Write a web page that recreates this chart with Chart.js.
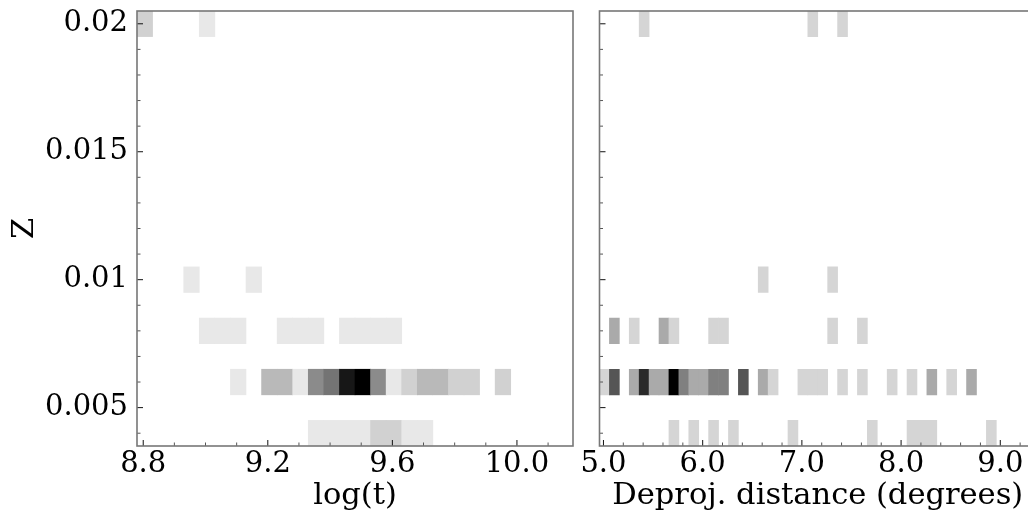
<!DOCTYPE html>
<html>
<head>
<meta charset="utf-8">
<script src="https://cdn.jsdelivr.net/npm/chart.js@4"></script>
<style>
  html, body { margin: 0; padding: 0; background: #fff; overflow: hidden; width: 1028px; height: 516px; }
  #chart-logt { position: absolute; left: 0; top: 0; }
  #chart-dist { position: absolute; left: 560px; top: 0; }
</style>
</head>
<body>
<canvas id="chart-logt" width="586" height="516"></canvas>
<canvas id="chart-dist" width="490" height="516"></canvas>
<script>
// Metallicity rows shared by both panels (bins are 0.001 tall)
const zRows = [0.004, 0.006, 0.008, 0.010, 0.020];
const zBin = 0.001;
const zRange = [0.0035, 0.0205];
const zMajorTicks = [0.005, 0.01, 0.015, 0.02];
const zMinorStep = 0.001;

// log(t) panel: 28 bins of 0.05 starting at 8.78
const logtRange = [8.78, 10.18];
const logtBin = 0.05;
const logtMajorTicks = [8.8, 9.2, 9.6, 10.0];
const logtMinorStep = 0.1;
const logtZ004 = [0,0,0,0,0,0,0,0,0,0,0,1,1,1,1,2,2,1,1,0,0,0,0,0,0,0,0,0];
const logtZ006 = [0,0,0,0,0,0,1,0,3,3,1,5,6,10,11,5,1,2,3,3,2,2,0,2,0,0,0,0];
const logtZ008 = [0,0,0,0,1,1,1,0,0,1,1,1,0,1,1,1,1,0,0,0,0,0,0,0,0,0,0,0];
const logtZ010 = [0,0,0,1,0,0,0,1,0,0,0,0,0,0,0,0,0,0,0,0,0,0,0,0,0,0,0,0];
const logtZ020 = [2,0,0,0,1,0,0,0,0,0,0,0,0,0,0,0,0,0,0,0,0,0,0,0,0,0,0,0];

// Deprojected distance panel: 44 bins of 0.1 starting at 4.96
const distRange = [4.96, 9.36];
const distBin = 0.1;
const distMajorTicks = [5.0, 6.0, 7.0, 8.0, 9.0];
const distMinorStep = 0.2;
const distZ004 = [0,0,0,0,0,0,0,1,0,1, 0,1,0,1,0,0,0,0,0,1, 0,0,0,0,0,0,0,1,0,0, 0,1,1,1,0,0,0,0,0,1, 0,0,0,0];
const distZ006 = [1,4,0,2,5,2,2,6,3,2, 2,3,3,0,4,0,2,1,0,0, 1,1,1,0,1,0,1,0,0,1, 0,1,0,2,0,1,0,2,0,0, 0,0,0,0];
const distZ008 = [0,2,0,1,0,0,2,1,0,0, 0,1,1,0,0,0,0,0,0,0, 0,0,0,1,0,0,1,0,0,0, 0,0,0,0,0,0,0,0,0,0, 0,0,0,0];
const distZ010 = [0,0,0,0,0,0,0,0,0,0, 0,0,0,0,0,0,1,0,0,0, 0,0,0,1,0,0,0,0,0,0, 0,0,0,0,0,0,0,0,0,0, 0,0,0,0];
const distZ020 = [0,0,0,0,1,0,0,0,0,0, 0,0,0,0,0,0,0,0,0,0, 0,1,0,0,1,0,0,0,0,0, 0,0,0,0,0,0,0,0,0,0, 0,0,0,0];

const TICK_FONT = { family: "'DejaVu Serif', serif", size: 29, lineHeight: 1.2 };
const TITLE_FONT = { family: "'DejaVu Serif', serif", size: 30.5, lineHeight: 1.2 };
Chart.defaults.color = '#000';

const isMajor = (v, majors) => majors.some(m => Math.abs(m - v) < 1e-9);

function stepTicks(min, max, step) {
    const out = [];
    for (let k = Math.ceil(min / step - 1e-9); k <= Math.floor(max / step + 1e-9); k++) {
        out.push({ value: +(k * step).toFixed(6) });
    }
    return out;
}

// gray_r: 0 -> white, max count -> black
function grey(count, max) {
    const g = Math.round(255 * (1 - count / max));
    return `rgb(${g},${g},${g})`;
}

function buildCells(rows, xMin, xBin) {
    const max = Math.max(...rows.flat());
    const data = [], colors = [];
    rows.forEach((counts, r) => {
        counts.forEach((c, i) => {
            if (!c) return;
            data.push({ x: xMin + (i + 0.5) * xBin, y: [zRows[r] - zBin / 2, zRows[r] + zBin / 2] });
            colors.push(grey(c, max));
        });
    });
    return { data, colors };
}

// no automatic padding for overhanging tick labels
function noScalePadding(s) {
    s.paddingTop = 0; s.paddingBottom = 0; s.paddingLeft = 0; s.paddingRight = 0;
}

// inward ticks + full frame, matplotlib style
const frameTicks = {
    id: 'frameTicks',
    afterDatasetsDraw(chart, args, opts) {
        const { ctx, chartArea: a, scales } = chart;
        ctx.save();
        ctx.lineWidth = 1;
        scales.x.ticks.forEach(t => {
            const px = scales.x.getPixelForValue(t.value);
            const major = isMajor(t.value, opts.xMajor);
            ctx.strokeStyle = major ? '#111' : '#555';
            ctx.beginPath();
            ctx.moveTo(px, a.bottom);
            ctx.lineTo(px, a.bottom - (major ? 6 : 3.5));
            ctx.stroke();
        });
        scales.y.ticks.forEach(t => {
            const py = scales.y.getPixelForValue(t.value);
            const major = isMajor(t.value, opts.yMajor);
            ctx.strokeStyle = major ? '#111' : '#555';
            ctx.beginPath();
            ctx.moveTo(a.left, py);
            ctx.lineTo(a.left + (major ? 6 : 3.5), py);
            ctx.stroke();
        });
        ctx.strokeStyle = '#777';
        ctx.lineWidth = 1.6;
        ctx.strokeRect(a.left, a.top, a.right - a.left, a.bottom - a.top);
        ctx.restore();
    }
};

function makePanel(id, p) {
    const cells = buildCells(p.rows, p.range[0], p.bin);
    return new Chart(document.getElementById(id), {
        type: 'bar',
        data: {
            datasets: [{
                data: cells.data,
                backgroundColor: cells.colors,
                borderWidth: 0,
                barPercentage: 1,
                categoryPercentage: 1,
                grouped: false
            }]
        },
        options: {
            responsive: false,
            animation: false,
            events: [],
            layout: { padding: { top: 11, right: p.padRight, left: 0, bottom: 0 } },
            plugins: {
                legend: { display: false },
                tooltip: { enabled: false },
                frameTicks: { xMajor: p.majors, yMajor: zMajorTicks }
            },
            scales: {
                x: {
                    type: 'linear',
                    min: p.range[0],
                    max: p.range[1],
                    offset: false,
                    grid: { display: false, drawTicks: false },
                    border: { display: false },
                    afterBuildTicks: s => { s.ticks = stepTicks(p.range[0], p.range[1], p.minor); },
                    afterFit: s => { s.height = 70; noScalePadding(s); },
                    ticks: {
                        autoSkip: false, maxRotation: 0, padding: 1, font: TICK_FONT,
                        callback: v => isMajor(v, p.majors) ? v.toFixed(1) : ''
                    },
                    title: { display: true, text: p.xTitle, font: TITLE_FONT, padding: { top: 0, bottom: 2 } }
                },
                y: {
                    type: 'linear',
                    min: zRange[0],
                    max: zRange[1],
                    grid: { display: false, drawTicks: false },
                    border: { display: false },
                    afterBuildTicks: s => { s.ticks = stepTicks(zRange[0], zRange[1], zMinorStep); },
                    afterFit: s => { s.width = p.yWidth; noScalePadding(s); },
                    ticks: {
                        autoSkip: false, padding: 9, font: TICK_FONT,
                        callback: v => (p.yLabels && isMajor(v, zMajorTicks)) ? String(+v.toFixed(3)) : ''
                    },
                    title: { display: p.yLabels, text: 'Z', font: TITLE_FONT, padding: { top: 7, bottom: 0 } }
                }
            }
        },
        plugins: [frameTicks]
    });
}

makePanel('chart-logt', {
    rows: [logtZ004, logtZ006, logtZ008, logtZ010, logtZ020],
    range: logtRange, bin: logtBin, majors: logtMajorTicks, minor: logtMinorStep,
    xTitle: 'log(t)', yLabels: true, yWidth: 137, padRight: 13
});

makePanel('chart-dist', {
    rows: [distZ004, distZ006, distZ008, distZ010, distZ020],
    range: distRange, bin: distBin, majors: distMajorTicks, minor: distMinorStep,
    xTitle: 'Deproj. distance (degrees)', yLabels: false, yWidth: 39.5, padRight: 14
});
</script>
</body>
</html>
